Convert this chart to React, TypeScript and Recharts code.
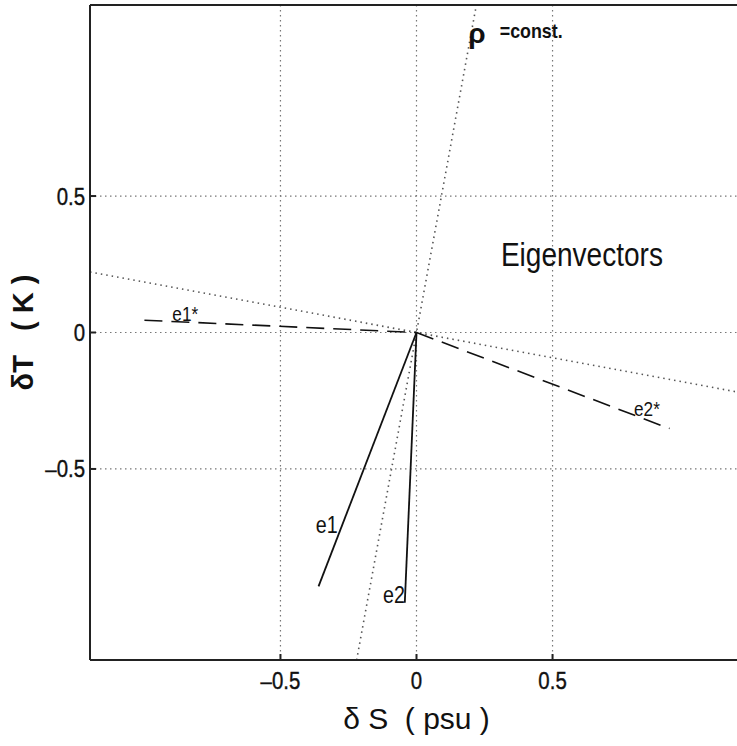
import {
  ComposedChart,
  Line,
  XAxis,
  YAxis,
  CartesianGrid,
  ReferenceDot,
} from "recharts";

const FONT = '"Liberation Sans", Arial, Helvetica, sans-serif';
const INK = "#111";
const NARROW = 0.85; // horizontal squeeze, mimics Helvetica Narrow

const axisTicks = [-0.5, 0, 0.5];
const axisDomain = [-1.2, 1.2];

// eigenvectors, as (dS, dT) end points from the origin
const e1Vec = [
  { x: 0, y: 0 },
  { x: -0.36, y: -0.93 },
];
const e2Vec = [
  { x: 0, y: 0 },
  { x: -0.043, y: -0.99 },
];
const e1StarVec = [
  { x: -1.0, y: 0.045 },
  { x: 0, y: 0 },
];
const e2StarVec = [
  { x: 0, y: 0 },
  { x: 0.93, y: -0.352 },
];

// density isoline and its normal through the origin
const rhoConstLine = [
  { x: -0.22, y: -1.2 },
  { x: 0.22, y: 1.2 },
];
const rhoNormalLine = [
  { x: -1.2, y: 0.222 },
  { x: 1.2, y: -0.222 },
];

const vectorLabels = [
  { text: "e1*", x: -0.85, y: 0.07, size: 21 },
  { text: "e2*", x: 0.847, y: -0.278, size: 21 },
  { text: "e1", x: -0.33, y: -0.703, size: 24 },
  { text: "e2", x: -0.083, y: -0.96, size: 24 },
];

const fmtTick = (v: number) => (v < 0 ? `\u2013${Math.abs(v)}` : `${v}`);

function NarrowTick({ x, y, payload, textAnchor, dy }: any) {
  return (
    <g transform={`translate(${x},${y})`}>
      <text
        transform={`scale(${NARROW},1)`}
        textAnchor={textAnchor}
        dy={dy}
        fontFamily={FONT}
        fontSize={24}
        fill={INK}
        stroke={INK}
        strokeWidth={0.4}
      >
        {fmtTick(payload.value)}
      </text>
    </g>
  );
}

function Tag({ viewBox, value, size, anchor, squeeze, weight }: any) {
  if (!viewBox) return null;
  const cx = viewBox.x + (viewBox.width || 0) / 2;
  const cy = viewBox.y + (viewBox.height || 0) / 2;
  return (
    <g transform={`translate(${cx},${cy})`}>
      <text
        transform={`scale(${squeeze ?? NARROW},1)`}
        dy="0.35em"
        textAnchor={anchor || "middle"}
        fontFamily={FONT}
        fontSize={size}
        fontWeight={weight || "normal"}
        fill={INK}
      >
        {value}
      </text>
    </g>
  );
}

function XTitle({ viewBox }: any) {
  if (!viewBox) return null;
  const cx = viewBox.x + viewBox.width / 2;
  return (
    <text
      x={cx}
      y={729}
      textAnchor="middle"
      fontFamily={FONT}
      fontSize={30}
      fill={INK}
      xmlSpace="preserve"
    >
      {"\u03b4 S  ( psu )"}
    </text>
  );
}

function YTitle({ viewBox }: any) {
  if (!viewBox) return null;
  const cy = viewBox.y + viewBox.height / 2;
  return (
    <text
      x={0}
      y={0}
      transform={`translate(33,${cy}) rotate(-90)`}
      textAnchor="middle"
      fontFamily={FONT}
      fontSize={29}
      fontWeight="bold"
      fill={INK}
      xmlSpace="preserve"
    >
      {"\u03b4T   ( K )"}
    </text>
  );
}

export default function App() {
  return (
    <div
      style={{
        position: "fixed",
        left: 0,
        top: 0,
        width: 737,
        height: 746,
        overflow: "hidden",
        background: "#fff",
      }}
    >
      <ComposedChart
        width={745}
        height={746}
        margin={{ top: 4, right: 2, bottom: 0, left: 0 }}
      >
        <CartesianGrid
          stroke="#777"
          strokeDasharray="1.5 3.5"
          strokeWidth={1.2}
        />
        <XAxis
          dataKey="x"
          type="number"
          domain={axisDomain}
          ticks={axisTicks}
          allowDataOverflow
          height={86}
          stroke="#222"
          strokeWidth={2}
          tickSize={-6}
          tickMargin={18}
          tick={<NarrowTick dy="0.71em" />}
          label={<XTitle />}
        />
        <XAxis
          xAxisId="top"
          orientation="top"
          dataKey="x"
          type="number"
          domain={axisDomain}
          ticks={axisTicks}
          allowDataOverflow
          height={1}
          stroke="#222"
          strokeWidth={2}
          tickSize={-6}
          tick={false}
        />
        <YAxis
          dataKey="y"
          type="number"
          domain={axisDomain}
          ticks={axisTicks}
          allowDataOverflow
          width={90}
          stroke="#222"
          strokeWidth={2}
          tickSize={-6}
          tickMargin={11}
          tick={<NarrowTick dy="0.355em" />}
          label={<YTitle />}
        />

        <Line
          data={rhoConstLine}
          dataKey="y"
          stroke="#555"
          strokeWidth={1.6}
          strokeDasharray="1.5 4"
          dot={false}
          activeDot={false}
          isAnimationActive={false}
        />
        <Line
          data={rhoNormalLine}
          dataKey="y"
          stroke="#555"
          strokeWidth={1.6}
          strokeDasharray="1.5 4"
          dot={false}
          activeDot={false}
          isAnimationActive={false}
        />
        <Line
          data={e1StarVec}
          dataKey="y"
          stroke={INK}
          strokeWidth={1.6}
          strokeDasharray="18 9"
          dot={false}
          activeDot={false}
          isAnimationActive={false}
        />
        <Line
          data={e2StarVec}
          dataKey="y"
          stroke={INK}
          strokeWidth={1.6}
          strokeDasharray="18 9"
          dot={false}
          activeDot={false}
          isAnimationActive={false}
        />
        <Line
          data={e1Vec}
          dataKey="y"
          stroke={INK}
          strokeWidth={1.8}
          dot={false}
          activeDot={false}
          isAnimationActive={false}
        />
        <Line
          data={e2Vec}
          dataKey="y"
          stroke={INK}
          strokeWidth={1.8}
          dot={false}
          activeDot={false}
          isAnimationActive={false}
        />

        {vectorLabels.map((l) => (
          <ReferenceDot
            key={l.text}
            x={l.x}
            y={l.y}
            r={0}
            fill="none"
            stroke="none"
            label={<Tag value={l.text} size={l.size} squeeze={0.82} />}
          />
        ))}
        <ReferenceDot
          x={0.222}
          y={1.095}
          r={0}
          fill="none"
          stroke="none"
          label={<Tag value={"\u03c1"} size={28} squeeze={1} weight="bold" />}
        />
        <ReferenceDot
          x={0.306}
          y={1.106}
          r={0}
          fill="none"
          stroke="none"
          label={<Tag value="=const." size={21} anchor="start" weight="bold" />}
        />
        <ReferenceDot
          x={0.608}
          y={0.286}
          r={0}
          fill="none"
          stroke="none"
          label={<Tag value="Eigenvectors" size={33} />}
        />
      </ComposedChart>
    </div>
  );
}
